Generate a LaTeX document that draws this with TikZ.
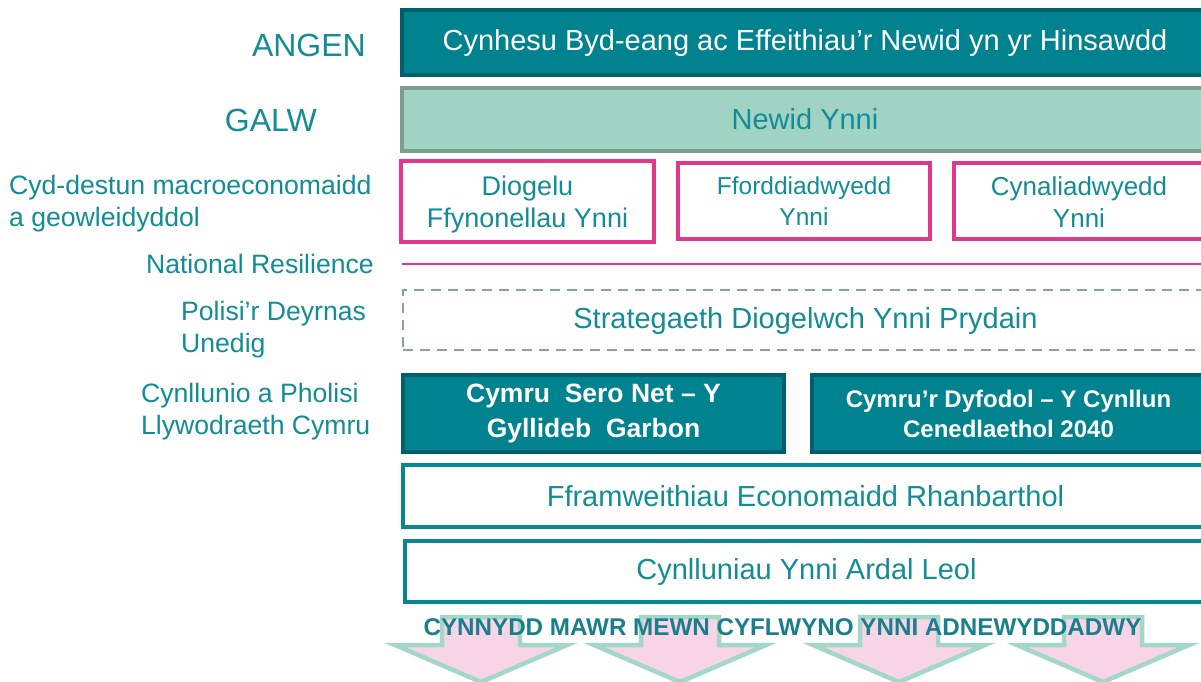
\documentclass[tikz,border=0pt]{standalone}
\usepackage{fontspec}
\setmainfont{Liberation Sans}
\definecolor{tealtxt}{HTML}{138C96}
\definecolor{tealfill}{HTML}{00838F}
\definecolor{tealdark}{HTML}{005F6A}
\definecolor{mintfill}{HTML}{A1D3C5}
\definecolor{greyborder}{HTML}{7A9D90}
\definecolor{pinkline}{HTML}{E0388A}
\definecolor{dashcol}{HTML}{84A598}
\definecolor{arrowfill}{HTML}{F8D5E6}
\definecolor{arrowline}{HTML}{A3D7C8}
\definecolor{bottxt}{HTML}{1A7F8C}
\definecolor{tealborder}{HTML}{0A8592}
\newcommand{\lowerby}[2]{\raisebox{-#1}[\height][\depth]{\begin{tabular}{@{}c@{}}#2\end{tabular}}}
\begin{document}
\begin{tikzpicture}[x=1pt,y=-1pt,
  lbl/.style={text=tealtxt, inner sep=0pt, font=\fontsize{26.6}{32}\selectfont, align=left},
  biglbl/.style={text=tealtxt, inner sep=0pt, font=\fontsize{32}{36}\selectfont},
  boxbase/.style={rectangle, inner sep=0pt, align=center},
  needbox/.style={boxbase, draw=tealdark, fill=tealfill, line width=3.5pt, text=white, font=\fontsize{29}{33}\selectfont},
  callbox/.style={boxbase, draw=greyborder, fill=mintfill, line width=4.5pt, text=tealtxt, font=\fontsize{29}{33}\selectfont},
  pinkbox/.style={boxbase, draw=pinkline, fill=white, line width=4pt, text=tealtxt},
  dashbox/.style={boxbase, draw=dashcol, line width=2pt, dash pattern=on 10pt off 7pt, text=tealtxt, font=\fontsize{29}{33}\selectfont},
  walesbox/.style={boxbase, draw=tealdark, fill=tealfill, line width=3.5pt, text=white},
  whitebox/.style={boxbase, draw=tealborder, fill=white, line width=3.5pt, text=tealtxt, font=\fontsize{29}{33}\selectfont},
  arrowshape/.style={fill=arrowfill, draw=arrowline, line width=4.5pt, line join=miter}
]
\clip (0,0) rectangle (1201,681);
\fill[white] (0,0) rectangle (1201,681);

% left labels
\node[biglbl, anchor=east] (angen) at (366,45) {ANGEN};
\node[biglbl, anchor=east] (galw) at (317,120) {GALW};
\node[lbl, anchor=west] (cyd) at (9,204) {Cyd-destun macroeconomaidd\\a geowleidyddol};
\node[lbl, anchor=east] (natres) at (374,264) {National Resilience};
\node[lbl, anchor=west] (polisi) at (181,330) {Polisi’r Deyrnas\\Unedig};
\node[lbl, anchor=west] (cynll) at (141,412) {Cynllunio a Pholisi\\Llywodraeth Cymru};

% boxes
\node[needbox, minimum width=806pt, minimum height=65pt] (need) at (805,42.5) {Cynhesu Byd-eang ac Effeithiau’r Newid yn yr Hinsawdd};
\node[callbox, minimum width=806pt, minimum height=63pt] (call) at (805,119.5) {Newid Ynni};
\node[pinkbox, minimum width=253pt, minimum height=81pt, font=\fontsize{27}{32}\selectfont] (sec) at (527.5,201.5) {\lowerby{3.5pt}{Diogelu\\Ffynonellau Ynni}};
\node[pinkbox, minimum width=252pt, minimum height=76pt, font=\fontsize{24.5}{31}\selectfont] (aff) at (804,201) {\lowerby{2.5pt}{Fforddiadwyedd\\Ynni}};
\node[pinkbox, minimum width=250pt, minimum height=76pt, font=\fontsize{26}{32}\selectfont] (sus) at (1079,201) {\lowerby{4pt}{Cynaliadwyedd\\Ynni}};

\coordinate (resL) at (402,264);
\coordinate (resR) at (1210,264);
\draw[pinkline, line width=2pt] (resL) -- (resR);

\node[dashbox, minimum width=805pt, minimum height=60pt] (strat) at (805.5,320) {\lowerby{2pt}{Strategaeth Diogelwch Ynni Prydain}};
\node[walesbox, minimum width=381pt, minimum height=77pt, font=\bfseries\fontsize{26.5}{35}\selectfont] (sero) at (593.5,413.5) {Cymru\ \ Sero Net – Y\\Gyllideb\ \ Garbon};
\node[walesbox, minimum width=393pt, minimum height=77pt, font=\bfseries\fontsize{24}{30}\selectfont] (future) at (1008.5,413.5) {Cymru’r Dyfodol – Y Cynllun\\Cenedlaethol 2040};
\node[whitebox, minimum width=805pt, minimum height=62pt] (reg) at (805.5,496) {Fframweithiau Economaidd Rhanbarthol};
\node[whitebox, minimum width=803pt, minimum height=61pt] (local) at (806.5,571.5) {Cynlluniau Ynni Ardal Leol};

% arrows
\foreach \c in {481,680,899,1103}{
  \filldraw[arrowshape] (\c-39,617) -- (\c+39,617) -- (\c+39,645) -- (\c+86,645) -- (\c,682) -- (\c-86,645) -- (\c-39,645) -- cycle;
}

\node[inner sep=0pt, text=bottxt, font=\bfseries\fontsize{24.2}{26}\selectfont] (slogan) at (782.5,627) {CYNNYDD MAWR MEWN CYFLWYNO YNNI ADNEWYDDADWY};
\end{tikzpicture}
\end{document}
